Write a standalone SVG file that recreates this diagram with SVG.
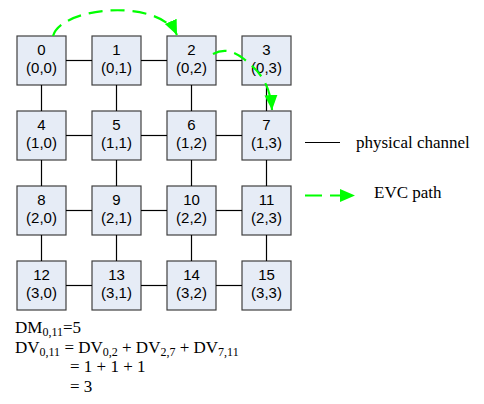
<svg xmlns="http://www.w3.org/2000/svg" width="484" height="404" viewBox="0 0 484 404">
<style>
.box{fill:#E6ECF6;stroke:#404040;stroke-width:1.2}
.lbl{font-family:"Liberation Sans",Arial,sans-serif;font-size:15px;fill:#000;text-anchor:middle}
.link{stroke:#000;stroke-width:1.2;fill:none}
.evc{stroke:#00FF00;stroke-width:2.2;fill:none;stroke-dasharray:14,8}
.tx{font-family:"Liberation Serif","Times New Roman",serif;font-size:17px;fill:#000}
.sub{font-size:12px}
</style>
<defs>
<marker id="ah" markerUnits="userSpaceOnUse" markerWidth="16" markerHeight="16" viewBox="0 0 16 16" refX="15" refY="8" orient="auto">
<path d="M0,1.5 L15,8 L0,14.5 Z" fill="#00FF00"/>
</marker>
</defs>
<g id="n0"><rect class="box" x="17" y="36" width="49" height="49"/><text class="lbl" x="41.5" y="55">0</text><text class="lbl" x="41.5" y="73">(0,0)</text></g>
<g id="n1"><rect class="box" x="92" y="36" width="49" height="49"/><text class="lbl" x="116.5" y="55">1</text><text class="lbl" x="116.5" y="73">(0,1)</text></g>
<g id="n2"><rect class="box" x="167" y="36" width="49" height="49"/><text class="lbl" x="191.5" y="55">2</text><text class="lbl" x="191.5" y="73">(0,2)</text></g>
<g id="n3"><rect class="box" x="242" y="36" width="49" height="49"/><text class="lbl" x="266.5" y="55">3</text><text class="lbl" x="266.5" y="73">(0,3)</text></g>
<g id="n4"><rect class="box" x="17" y="111" width="49" height="49"/><text class="lbl" x="41.5" y="130">4</text><text class="lbl" x="41.5" y="148">(1,0)</text></g>
<g id="n5"><rect class="box" x="92" y="111" width="49" height="49"/><text class="lbl" x="116.5" y="130">5</text><text class="lbl" x="116.5" y="148">(1,1)</text></g>
<g id="n6"><rect class="box" x="167" y="111" width="49" height="49"/><text class="lbl" x="191.5" y="130">6</text><text class="lbl" x="191.5" y="148">(1,2)</text></g>
<g id="n7"><rect class="box" x="242" y="111" width="49" height="49"/><text class="lbl" x="266.5" y="130">7</text><text class="lbl" x="266.5" y="148">(1,3)</text></g>
<g id="n8"><rect class="box" x="17" y="186" width="49" height="49"/><text class="lbl" x="41.5" y="205">8</text><text class="lbl" x="41.5" y="223">(2,0)</text></g>
<g id="n9"><rect class="box" x="92" y="186" width="49" height="49"/><text class="lbl" x="116.5" y="205">9</text><text class="lbl" x="116.5" y="223">(2,1)</text></g>
<g id="n10"><rect class="box" x="167" y="186" width="49" height="49"/><text class="lbl" x="191.5" y="205">10</text><text class="lbl" x="191.5" y="223">(2,2)</text></g>
<g id="n11"><rect class="box" x="242" y="186" width="49" height="49"/><text class="lbl" x="266.5" y="205">11</text><text class="lbl" x="266.5" y="223">(2,3)</text></g>
<g id="n12"><rect class="box" x="17" y="261" width="49" height="49"/><text class="lbl" x="41.5" y="280">12</text><text class="lbl" x="41.5" y="298">(3,0)</text></g>
<g id="n13"><rect class="box" x="92" y="261" width="49" height="49"/><text class="lbl" x="116.5" y="280">13</text><text class="lbl" x="116.5" y="298">(3,1)</text></g>
<g id="n14"><rect class="box" x="167" y="261" width="49" height="49"/><text class="lbl" x="191.5" y="280">14</text><text class="lbl" x="191.5" y="298">(3,2)</text></g>
<g id="n15"><rect class="box" x="242" y="261" width="49" height="49"/><text class="lbl" x="266.5" y="280">15</text><text class="lbl" x="266.5" y="298">(3,3)</text></g>
<g id="connectors">
<g class="link">
<line x1="66" y1="60.5" x2="92" y2="60.5"/><line x1="141" y1="60.5" x2="167" y2="60.5"/><line x1="216" y1="60.5" x2="242" y2="60.5"/>
<line x1="66" y1="135.5" x2="92" y2="135.5"/><line x1="141" y1="135.5" x2="167" y2="135.5"/><line x1="216" y1="135.5" x2="242" y2="135.5"/>
<line x1="66" y1="210.5" x2="92" y2="210.5"/><line x1="141" y1="210.5" x2="167" y2="210.5"/><line x1="216" y1="210.5" x2="242" y2="210.5"/>
<line x1="66" y1="285.5" x2="92" y2="285.5"/><line x1="141" y1="285.5" x2="167" y2="285.5"/><line x1="216" y1="285.5" x2="242" y2="285.5"/>
<line x1="41.5" y1="85" x2="41.5" y2="111"/><line x1="116.5" y1="85" x2="116.5" y2="111"/><line x1="191.5" y1="85" x2="191.5" y2="111"/><line x1="266.5" y1="85" x2="266.5" y2="111"/>
<line x1="41.5" y1="160" x2="41.5" y2="186"/><line x1="116.5" y1="160" x2="116.5" y2="186"/><line x1="191.5" y1="160" x2="191.5" y2="186"/><line x1="266.5" y1="160" x2="266.5" y2="186"/>
<line x1="41.5" y1="235" x2="41.5" y2="261"/><line x1="116.5" y1="235" x2="116.5" y2="261"/><line x1="191.5" y1="235" x2="191.5" y2="261"/><line x1="266.5" y1="235" x2="266.5" y2="261"/>
</g>
<path class="evc" d="M53,36 C62,6 160,-2 177,35" marker-end="url(#ah)"/>
<path class="evc" d="M213,54 C224,48 234,51 244,59 C256,69 270,80 272,110" marker-end="url(#ah)"/>
</g>
<g id="legend">
<line x1="305" y1="142.5" x2="340" y2="142.5" stroke="#000" stroke-width="1.2"/>
<text class="tx" x="356" y="148">physical channel</text>
<path class="evc" d="M305,195.5 L355,195.5" style="stroke-dasharray:17,8" marker-end="url(#ah)"/>
<text class="tx" x="374" y="198">EVC path</text>
</g>
<g id="formula">
<text class="tx" x="15" y="333">DM<tspan class="sub" dy="2.5">0,11</tspan><tspan dy="-2.5">=5</tspan></text>
<text class="tx" x="15" y="353">DV<tspan class="sub" dy="2.5">0,11</tspan><tspan dy="-2.5"> = DV</tspan><tspan class="sub" dy="2.5">0,2</tspan><tspan dy="-2.5"> + DV</tspan><tspan class="sub" dy="2.5">2,7</tspan><tspan dy="-2.5"> + DV</tspan><tspan class="sub" dy="2.5">7,11</tspan></text>
<text class="tx" x="70" y="372">= 1 + 1 + 1</text>
<text class="tx" x="70" y="392">= 3</text>
</g>
</svg>
